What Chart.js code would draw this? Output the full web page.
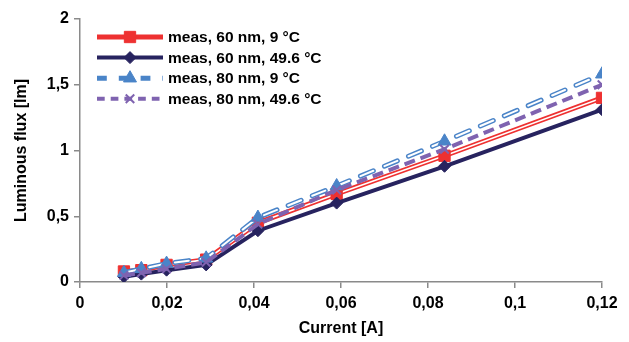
<!DOCTYPE html>
<html lang="en">
<head>
<meta charset="UTF-8">
<title>Luminous flux vs current</title>
<script src="https://cdn.jsdelivr.net/npm/chart.js"></script>
<style>
    html, body { margin: 0; padding: 0; background: #fff; }
    #wrap { width: 629px; height: 342px; }
</style>
</head>
<body>
<div id="wrap"><canvas id="myChart" width="629" height="342"></canvas></div>
<script>
// data
const currents   = [0.0101, 0.0141, 0.0199, 0.029, 0.0409, 0.059, 0.0838, 0.12];
const flux60nm9  = [0.08, 0.09, 0.13, 0.17, 0.45, 0.67, 0.96, 1.40];
const flux60nm49 = [0.04, 0.06, 0.09, 0.13, 0.39, 0.60, 0.88, 1.31];
const flux80nm9  = [0.07, 0.10, 0.14, 0.18, 0.49, 0.73, 1.07, 1.58];
const flux80nm49 = [0.05, 0.07, 0.10, 0.15, 0.44, 0.70, 1.01, 1.50];
const seriesLabels = ['meas, 60 nm, 9 °C', 'meas, 60 nm, 49.6 °C', 'meas, 80 nm, 9 °C', 'meas, 80 nm, 49.6 °C'];
const seriesData = [flux60nm9, flux60nm49, flux80nm9, flux80nm49];

const FONT = 'Arial, "Liberation Sans", sans-serif';
const AXIS_GREY = '#8a8a8a';

// look of each series
const styles = [
    { color: '#ee3131', width: 5, inner: 1.6, dash: [], marker: 'rect', radius: 8, mBorder: 1 },
    { color: '#27235f', width: 4, inner: 0, dash: [], marker: 'rectRot', radius: 6, mBorder: 1 },
    { color: '#4a84c8', width: 5, inner: 2, dash: [14, 12], cap: 'round', marker: 'triangle', radius: 7.5, mBorder: 1 },
    { color: '#7f63b0', width: 4, inner: 0, dash: [11, 6], marker: 'crossRot', radius: 6, mBorder: 2 }
];

function pts(ys) {
    return currents.map((x, i) => ({ x: x, y: ys[i] }));
}

// build datasets: outline line, white inner line (for double lines), markers
const datasets = [];
let order = 30;
seriesData.forEach((ys, i) => {
    const s = styles[i];
    datasets.push({
        label: seriesLabels[i], data: pts(ys), order: order--,
        borderColor: s.color, borderWidth: s.width, borderDash: s.dash,
        borderCapStyle: s.cap || 'butt', pointRadius: 0, tension: 0
    });
    if (s.inner) {
        datasets.push({
            label: '', data: pts(ys), order: order--,
            borderColor: '#ffffff', borderWidth: s.inner, borderDash: s.dash,
            borderCapStyle: s.cap || 'butt', pointRadius: 0, tension: 0
        });
    }
    datasets.push({
        label: '', data: pts(ys), order: order--, showLine: false,
        pointStyle: s.marker, pointRadius: s.radius, pointHoverRadius: s.radius,
        pointBackgroundColor: s.color, pointBorderColor: s.color, pointBorderWidth: s.mBorder
    });
});

function comma(v) {
    return Number(v.toFixed(2)).toString().replace('.', ',');
}

// legend drawn inside the plot, line + marker + text
const sampleLegend = {
    id: 'sampleLegend',
    afterDraw(chart) {
        const ctx = chart.ctx;
        const a = chart.chartArea;
        ctx.save();
        styles.forEach((s, i) => {
            const y = a.top + 18 + i * 20.6;
            const x0 = a.left + 17, x1 = a.left + 83, xm = (x0 + x1) / 2;
            ctx.lineCap = 'butt';
            ctx.strokeStyle = s.color;
            ctx.lineWidth = s.width;
            ctx.setLineDash(s.dash.length ? [s.dash[0] * 0.7, s.dash[1] * 1.0] : []);
            ctx.beginPath(); ctx.moveTo(x0, y); ctx.lineTo(x1, y); ctx.stroke();
            ctx.setLineDash([]);
            ctx.fillStyle = s.color;
            ctx.lineWidth = s.mBorder;
            Chart.helpers.drawPoint(ctx, { pointStyle: s.marker, radius: s.radius, borderWidth: s.mBorder, rotation: 0 }, xm, y);
            ctx.fillStyle = '#000';
            ctx.font = 'bold 15.5px ' + FONT;
            ctx.textBaseline = 'middle';
            ctx.textAlign = 'left';
            ctx.fillText(seriesLabels[i], x1 + 5, y + 1);
        });
        ctx.restore();
    }
};

const chart = new Chart(document.getElementById('myChart').getContext('2d'), {
    type: 'line',
    data: { datasets: datasets },
    plugins: [sampleLegend],
    options: {
        responsive: false,
        animation: false,
        layout: { padding: { top: 19, right: 27, left: 0, bottom: 0 } },
        plugins: { legend: { display: false }, tooltip: { enabled: false } },
        scales: {
            x: {
                type: 'linear', min: 0, max: 0.12,
                afterFit(scale) { scale.height = 60; },
                ticks: { stepSize: 0.02, color: '#000', padding: 6, maxRotation: 0,
                    font: { family: FONT, size: 16, weight: 'bold' }, callback: v => comma(v) },
                grid: { drawOnChartArea: false, tickLength: 6, color: AXIS_GREY, lineWidth: 1.5 },
                border: { color: AXIS_GREY, width: 1.5 },
                title: { display: true, text: 'Current [A]', color: '#000',
                    font: { family: FONT, size: 16, weight: 'bold' }, padding: { top: 0, bottom: 4 } }
            },
            y: {
                min: 0, max: 2,
                afterFit(scale) { scale.width = 80; },
                ticks: { stepSize: 0.5, color: '#000', padding: 5,
                    font: { family: FONT, size: 16, weight: 'bold' }, callback: v => comma(v) },
                grid: { drawOnChartArea: false, tickLength: 6, color: AXIS_GREY, lineWidth: 1.5 },
                border: { color: AXIS_GREY, width: 1.5 },
                title: { display: true, text: 'Luminous flux [lm]', color: '#000',
                    font: { family: FONT, size: 16, weight: 'bold' }, padding: { top: 12, bottom: 0 } }
            }
        }
    }
});
</script>
</body>
</html>
